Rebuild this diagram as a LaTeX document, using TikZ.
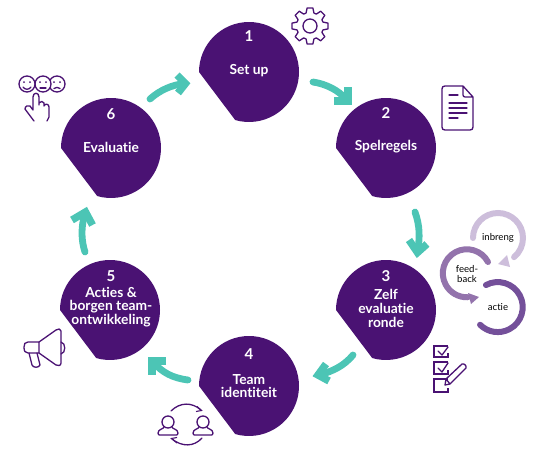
\documentclass[tikz,border=0pt]{standalone}
\usepackage{fontspec}
\setmainfont{Lato}[Ligatures=NoCommon]
\definecolor{pur}{HTML}{4A1273}
\definecolor{tealc}{HTML}{4CC5B5}
\definecolor{lil}{HTML}{CDBEDB}
\definecolor{mid}{HTML}{9373AC}
\definecolor{dark}{HTML}{74509A}
\tikzset{
 blob/.style={fill=pur,draw=none},
 num/.style={text=white,font=\fontsize{15}{15}\selectfont\bfseries,inner sep=0pt},
 lab/.style={text=white,font=\fontsize{13.8}{13.8}\selectfont\bfseries,align=center,inner sep=0pt},
 ringlab/.style={text=black,font=\fontsize{9.6}{10.5}\selectfont,align=center,inner sep=0pt},
 flow/.style={draw=tealc,line width=6.8pt,line cap=round},
 flowhead/.style={draw=tealc,line width=7.4pt,line cap=butt,line join=miter,miter limit=4},
 icon/.style={draw=pur,line width=1.3pt,line join=round,line cap=round,fill=none},
 iconhead/.style={draw=pur,line width=1.1pt,line join=miter,line cap=butt,fill=none},
 ring/.style={line width=6pt,line cap=round,fill=none},
}
\newcommand{\blobat}[2]{\fill[blob] (#1-50,#2) arc[start angle=180,end angle=-106,radius=50pt] -- cycle;}
\begin{document}
\begin{tikzpicture}[x=1pt,y=-1pt]
\useasboundingbox (0,0) rectangle (542,458);
% blobs
\blobat{249}{72}\blobat{386}{148}\blobat{386}{310}\blobat{249}{386}\blobat{110}{310}\blobat{111}{148}
% labels
\node[num] (n1) at (249,36) {1};
\node[lab] (t1) at (249,71) {Set up};
\node[num] (n2) at (386,113) {2};
\node[lab] (t2) at (386,147) {Spelregels};
\node[num] (n3) at (386,276) {3};
\node[lab] (t3) at (386,308.5) {Zelf\\evaluatie\\ronde};
\node[num] (n4) at (249,354) {4};
\node[lab] (t4) at (249,386) {Team\\identiteit};
\node[num] (n5) at (111,276) {5};
\node[lab] (t5) at (111,307) {Acties \&\\borgen team-\\ontwikkeling};
\node[num] (n6) at (111,114) {6};
\node[lab] (t6) at (111,147) {Evaluatie};
% connector ends
\coordinate (a1s) at (313,82); \coordinate (a1e) at (346,99);
\coordinate (a2s) at (415,212); \coordinate (a2e) at (417.5,251);
\coordinate (a3s) at (353,355); \coordinate (a3e) at (320,375);
\coordinate (a4s) at (188,380); \coordinate (a4e) at (154,363);
\coordinate (a5s) at (85,252); \coordinate (a5e) at (85,214);
\coordinate (a6s) at (150,99); \coordinate (a6e) at (184,83.5);
\draw[flow] (a1s) .. controls (326,84) and (338,90) .. (a1e);
\draw[flow] (a2s) .. controls (420,226) and (420,238) .. (a2e);
\draw[flow] (a3s) .. controls (343,367) and (332,371) .. (a3e);
\draw[flow] (a4s) .. controls (172,378) and (162,372) .. (a4e);
\draw[flow] (a5s) .. controls (81,240) and (81,226) .. (a5e);
\draw[flow] (a6s) .. controls (160,90) and (172,85) .. (a6e);
% arrowheads
\draw[flowhead] (334,101) -- (348,101) -- (348,87);
\draw[flowhead] (409,240) -- (417.5,252.5) -- (427,244);
\draw[flowhead] (326,364) -- (318,375) -- (329,381);
\draw[flowhead] (166,361) -- (152,361) -- (152,375);
\draw[flowhead] (72,220) -- (85.5,212) -- (92.5,225);
\draw[flowhead] (177,75) -- (185.5,83.5) -- (178,93);
% rings
\draw[ring,draw=lil] (473,238) arc[start angle=180,end angle=-50,radius=25pt] coordinate (r1e);
\fill[lil] (498,264) -- (510,267) -- (507,255) -- cycle;
\draw[ring,draw=mid] (488,262) arc[start angle=28,end angle=272,radius=24pt] coordinate (r2e);
\fill[mid] (479,297) -- (471,304) -- (468,293) -- cycle;
\draw[ring,draw=dark] (486,285) arc[start angle=118,end angle=-135,radius=25pt];
\node[ringlab] (r1) at (498,238) {inbreng};
\node[ringlab] (r2) at (467,274) {feed-\\back};
\node[ringlab] (r3) at (498,307) {actie};
% gear
\draw[icon] (310,26) circle (7);
\draw[icon,shift={(310,26)}] (-17:13.5)
  foreach \a in {0,45,...,315} { -- (\a-17:13.5) -- (\a-9:18.3) -- (\a+9:18.3) -- (\a+17:13.5) } -- cycle;
% document
\draw[icon] (463,86) -- (445,86) .. controls (443,86) and (442,87) .. (442,89) -- (442,127) .. controls (442,129) and (443,130) .. (445,130) -- (470,130) .. controls (472,130) and (473,129) .. (473,127) -- (473,97) -- (463,86) -- (463,95) .. controls (463,96) and (464,97) .. (465,97) -- (473,97);
\foreach \ya/\xb in {95/458,103/467,108/467,113/467,118/458} \draw[icon] (449,\ya) -- (\xb,\ya);
% checklist
\foreach \ya/\yb in {346/357,362/374,379/392}
  \draw[icon,line cap=butt,line join=miter] (448,\ya) -- (434,\ya) -- (434,\yb) -- (448,\yb) -- (448,\yb-4);
\draw[icon] (438,351) -- (442,355) -- (448,347);
\draw[icon] (438,368) -- (442,372) -- (448,363);
\draw[icon] (445,385) -- (446,379) -- (462,364) .. controls (464,363) and (467,366) .. (466,368) -- (450,384) -- cycle (446,379) -- (450,384);
% people
\foreach \xc in {168,203}{
 \draw[icon] (\xc,422) circle (6);
 \draw[icon] (\xc-4,427) .. controls (\xc-4,429) and (\xc-10,429) .. (\xc-10,433) .. controls (\xc-10,435) and (\xc-9,435) .. (\xc-8,435) -- (\xc+8,435) .. controls (\xc+9,435) and (\xc+10,435) .. (\xc+10,433) .. controls (\xc+10,429) and (\xc+4,429) .. (\xc+4,427);
}
\draw[icon] (171,411) .. controls (180,402) and (192,402) .. (201,410);
\draw[iconhead] (197,406.5) -- (201.5,410.5) -- (196,411.5);
\draw[icon] (202,438) .. controls (194,447) and (182,447) .. (172,439);
\draw[iconhead] (177,443) -- (171.5,438.5) -- (177,437.5);
% megaphone
\draw[icon] (39,342) -- (28,342) .. controls (25,342) and (24,344) .. (24,347) .. controls (24,351) and (25,353) .. (28,353) -- (39,353) -- (39,342) -- (56,330) .. controls (58,328) and (61,329) .. (61,331) -- (61,363) .. controls (61,366) and (58,366) .. (56,365) -- (39,353);
\draw[icon] (61,342) .. controls (66,343) and (66,353) .. (61,354);
\draw[icon] (29,353) -- (32,365) .. controls (33,368) and (39,368) .. (40,365) -- (37,353);
% smileys
\foreach \xc/\m in {57/f,43/n,27/s}{
 \fill[white] (\xc,84) circle (8);
 \draw[icon,draw=pur] (\xc,84) circle (8);
 \fill[pur] (\xc-3,82) circle (1) (\xc+3,82) circle (1);
}
\draw[icon] (23,87) .. controls (25,90) and (29,90) .. (31,87);
\draw[icon] (40,88) -- (46,88);
\draw[icon] (54,88.5) .. controls (56,87) and (58,87) .. (60,88.5);
% hand
\draw[icon] (34,121) -- (25,109) .. controls (25,106) and (28,105) .. (30,106) -- (33,110) -- (33,97) .. controls (33,92) and (39,92) .. (39,97) -- (39,105) -- (39,103) .. controls (41,101) and (43,101) .. (44,103) -- (44,106) .. controls (45,103) and (49,104) .. (49,107) -- (49,117) -- (47,121);
\end{tikzpicture}
\end{document}
